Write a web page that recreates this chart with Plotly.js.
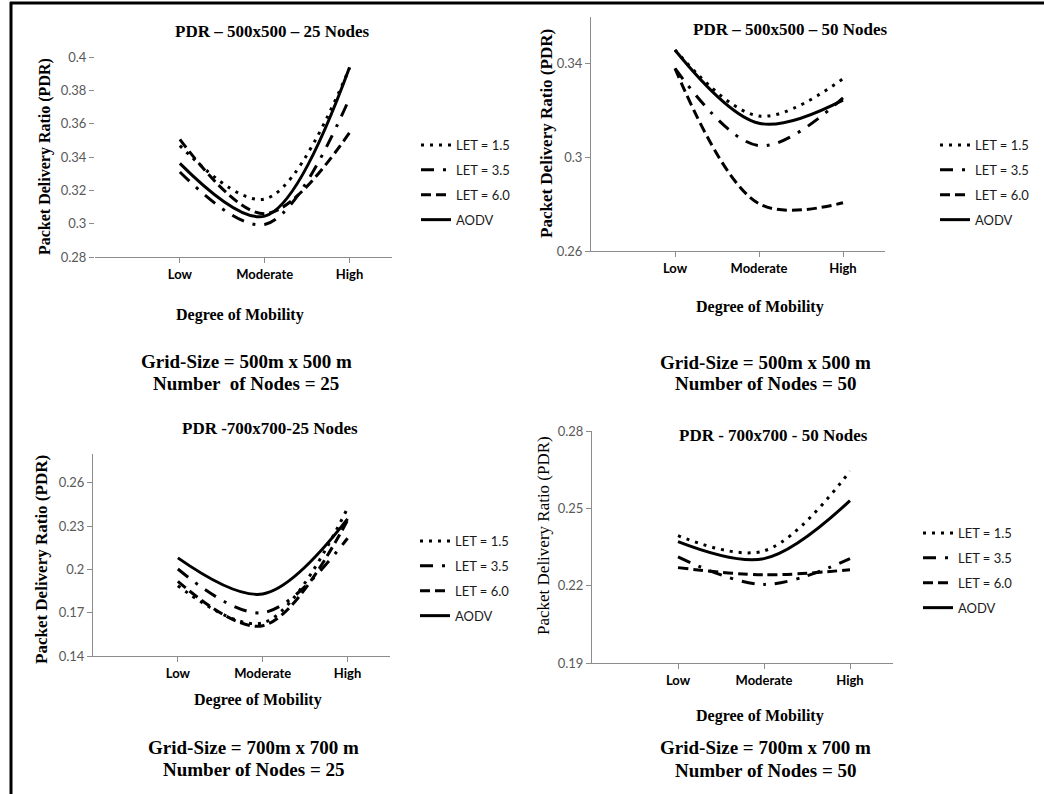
<!DOCTYPE html>
<html>
<head>
<meta charset="utf-8">
<script src="https://cdn.plot.ly/plotly-3.0.1.min.js"></script>
<style>html,body{margin:0;padding:0;background:#fff}#chart{width:1044px;height:794px}</style>
</head>
<body>
<div id="chart"></div>
<script>
// ---------------- DATA ----------------
const categories = ['Low', 'Moderate', 'High'];
const seriesNames = ['LET = 1.5', 'LET = 3.5', 'LET = 6.0', 'AODV'];

// Panel 1: PDR – 500x500 – 25 Nodes
const p1_let15 = [0.3468, 0.3148, 0.3934];
const p1_let35 = [0.3310, 0.2995, 0.3753];
const p1_let60 = [0.3506, 0.3060, 0.3546];
const p1_aodv  = [0.3362, 0.3045, 0.3938];

// Panel 2: PDR – 500x500 – 50 Nodes
const p2_let15 = [0.3459, 0.3177, 0.3336];
const p2_let35 = [0.3380, 0.3050, 0.3254];
const p2_let60 = [0.3380, 0.2802, 0.2806];
const p2_aodv  = [0.3459, 0.3146, 0.3245];

// Panel 3: PDR -700x700-25 Nodes
const p3_let15 = [0.1887, 0.1630, 0.2425];
const p3_let35 = [0.2003, 0.1700, 0.2216];
const p3_let60 = [0.1917, 0.1610, 0.2340];
const p3_aodv  = [0.2080, 0.1830, 0.2350];

// Panel 4: PDR - 700x700 - 50 Nodes
const p4_let15 = [0.2394, 0.2335, 0.2644];
const p4_let35 = [0.2312, 0.2205, 0.2305];
const p4_let60 = [0.2270, 0.2242, 0.2262];
const p4_aodv  = [0.2371, 0.2305, 0.2530];

const panelTitles = ['PDR \u2013 500x500 \u2013 25 Nodes', 'PDR \u2013 500x500 \u2013 50 Nodes',
                     'PDR -700x700-25 Nodes', 'PDR - 700x700 - 50 Nodes'];
const gridLabels = ['Grid-Size = 500m x 500 m', 'Grid-Size = 500m x 500 m',
                    'Grid-Size = 700m x 700 m', 'Grid-Size = 700m x 700 m'];
const nodeLabels = ['Number  of Nodes = 25', 'Number of Nodes = 50',
                    'Number of Nodes = 25', 'Number of Nodes = 50'];
const xTitle = 'Degree of Mobility';
const yTitle = 'Packet Delivery Ratio (PDR)';

// ---------------- LAYOUT HELPERS ----------------
const W = 1044, H = 794;
const px = v => v / W;
const py = v => 1 - v / H;

const panelData = [
  [p1_let15, p1_let35, p1_let60, p1_aodv],
  [p2_let15, p2_let35, p2_let60, p2_aodv],
  [p3_let15, p3_let35, p3_let60, p3_aodv],
  [p4_let15, p4_let35, p4_let60, p4_aodv]
];
const dashes = ['3px,6px', '13px,9px,3px,9px', '10px,5px', 'solid'];

// pixel boxes of each plot area [left, right, top, bottom]
const boxes = [
  [95, 392, 57, 257],
  [591, 885, 17, 251],
  [93, 390, 454, 656],
  [592, 893, 431, 663]
];
const yRanges = [[0.28, 0.4], [0.26, 0.36], [0.14, 0.28], [0.19, 0.28]];
const yDticks = [0.02, 0.04, 0.03, 0.03];
const yLineShown = [false, true, true, true];

const traces = [];
panelData.forEach((series, p) => {
  const sfx = p === 0 ? '' : String(p + 1);
  series.forEach((vals, s) => {
    traces.push({
      x: categories, y: vals,
      xaxis: 'x' + sfx, yaxis: 'y' + sfx,
      type: 'scatter', mode: 'lines',
      name: seriesNames[s],
      legend: 'legend' + sfx,
      legendgroup: 'p' + p + 's' + s,
      line: {shape: 'spline', smoothing: 1, color: '#000', width: 3, dash: dashes[s]},
      hoverinfo: 'x+y+name'
    });
  });
});

const layout = {
  width: W, height: H,
  margin: {l: 0, r: 0, t: 0, b: 0},
  paper_bgcolor: '#fff', plot_bgcolor: 'rgba(0,0,0,0)',
  font: {family: 'Liberation Serif', color: '#000'},
  annotations: [],
  shapes: [
    {type: 'line', xref: 'paper', yref: 'paper', x0: px(10), x1: 1, y0: py(3), y1: py(3), line: {color: '#000', width: 3}},
    {type: 'line', xref: 'paper', yref: 'paper', x0: px(11), x1: px(11), y0: py(2), y1: 0, line: {color: '#000', width: 3}}
  ]
};

const legendPos = [[416, 130], [935, 130], [415, 526], [918, 518]];
const titlePos = [[272, 31], [790, 30], [270, 428], [773, 435]];
const yTitlePos = [[45, 157, true, 16], [547, 134, true, 17], [41, 560, true, 17], [543, 536, false, 17]];
const xTitlePos = [[240, 315], [760, 307], [258, 700], [760, 716]];
const gridPos = [[246, 361], [765, 362], [253, 747], [765, 747]];
const nodePos = [[246, 383], [765, 383], [253, 769], [765, 770]];

boxes.forEach((b, p) => {
  const sfx = p === 0 ? '' : String(p + 1);
  layout['xaxis' + sfx] = {
    domain: [px(b[0]), px(b[1])], anchor: 'y' + sfx,
    type: 'category', range: [-1, 2.5],
    showline: true, linecolor: '#8c8c8c', linewidth: 1,
    ticks: 'outside', ticklen: 5, tickcolor: '#8c8c8c',
    tickfont: {family: 'Lato', size: 13, color: '#000', weight: 'bold'},
    showgrid: false, zeroline: false, fixedrange: true
  };
  layout['yaxis' + sfx] = {
    domain: [py(b[3]), py(b[2])], anchor: 'x' + sfx,
    range: yRanges[p], tick0: yRanges[p][0], dtick: yDticks[p],
    showline: yLineShown[p], linecolor: '#8c8c8c', linewidth: 1,
    ticks: 'outside', ticklen: 5, tickcolor: '#8c8c8c',
    tickfont: {family: 'Lato', size: 13, color: '#595959'},
    showgrid: false, zeroline: false, fixedrange: true
  };
  layout['legend' + sfx] = {
    x: px(legendPos[p][0]), y: py(legendPos[p][1]), xanchor: 'left', yanchor: 'top',
    bgcolor: 'rgba(0,0,0,0)', borderwidth: 0,
    font: {family: 'Lato', size: 13, color: '#1a1a1a'},
    tracegroupgap: 5, traceorder: 'grouped', itemwidth: 30
  };
  const ann = layout.annotations;
  ann.push({xref: 'paper', yref: 'paper', x: px(titlePos[p][0]), y: py(titlePos[p][1]), text: panelTitles[p],
            showarrow: false, xanchor: 'center', yanchor: 'middle',
            font: {family: 'Liberation Serif', size: 17, weight: 'bold', color: '#000'}});
  ann.push({xref: 'paper', yref: 'paper', x: px(yTitlePos[p][0]), y: py(yTitlePos[p][1]), text: yTitle,
            showarrow: false, xanchor: 'center', yanchor: 'middle', textangle: -90,
            font: {family: 'Liberation Serif', size: yTitlePos[p][3], weight: yTitlePos[p][2] ? 'bold' : 'normal', color: '#000'}});
  ann.push({xref: 'paper', yref: 'paper', x: px(xTitlePos[p][0]), y: py(xTitlePos[p][1]), text: xTitle,
            showarrow: false, xanchor: 'center', yanchor: 'middle',
            font: {family: 'Liberation Serif', size: 16, weight: 'bold', color: '#000'}});
  ann.push({xref: 'paper', yref: 'paper', x: px(gridPos[p][0]), y: py(gridPos[p][1]), text: gridLabels[p],
            showarrow: false, xanchor: 'center', yanchor: 'middle',
            font: {family: 'Liberation Serif', size: 19, weight: 'bold', color: '#000'}});
  ann.push({xref: 'paper', yref: 'paper', x: px(nodePos[p][0]), y: py(nodePos[p][1]), text: nodeLabels[p],
            showarrow: false, xanchor: 'center', yanchor: 'middle',
            font: {family: 'Liberation Serif', size: 19, weight: 'bold', color: '#000'}});
});

Plotly.newPlot('chart', traces, layout, {displayModeBar: false, staticPlot: true});
</script>
</body>
</html>
